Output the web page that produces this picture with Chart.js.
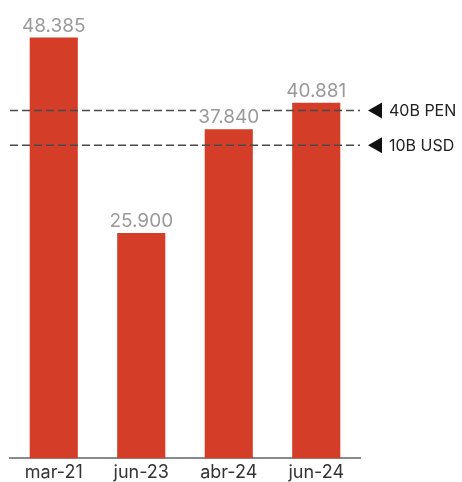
<!DOCTYPE html>
<html>
<head>
<meta charset="utf-8">
<script src="https://cdn.jsdelivr.net/npm/chart.js@4"></script>
<style>
  html, body { margin: 0; padding: 0; background: #fff; }
  canvas { display: block; }
</style>
</head>
<body>
<canvas id="grafico" width="462" height="482"></canvas>
<script>
const periodos = ["mar-21", "jun-23", "abr-24", "jun-24"];
const montos = [48.385, 25.900, 37.840, 40.881];
const etiquetas = ["48.385", "25.900", "37.840", "40.881"];
const referencias = [40.0, 36.0];
const referenciasTexto = ["40B PEN", "10B USD"];

const rojo = "#d43d27";

// lineas punteadas de referencia con su flecha y texto a la derecha
const lineasReferencia = {
  id: "lineasReferencia",
  afterDatasetsDraw(chart) {
    const ctx = chart.ctx;
    const area = chart.chartArea;
    const y = chart.scales.y;
    ctx.save();
    referencias.forEach((valor, i) => {
      const py = y.getPixelForValue(valor);
      ctx.strokeStyle = "#4a4a4a";
      ctx.lineWidth = 1.5;
      ctx.setLineDash([8, 4]);
      ctx.beginPath();
      ctx.moveTo(area.left, py);
      ctx.lineTo(area.right, py);
      ctx.stroke();
      ctx.setLineDash([]);
      ctx.fillStyle = "#111";
      ctx.beginPath();
      ctx.moveTo(area.right + 8, py);
      ctx.lineTo(area.right + 22, py - 8);
      ctx.lineTo(area.right + 22, py + 8);
      ctx.closePath();
      ctx.fill();
      ctx.fillStyle = "#222";
      ctx.font = "16px Inter, 'Noto Sans', sans-serif";
      ctx.textAlign = "left";
      ctx.textBaseline = "middle";
      ctx.fillText(referenciasTexto[i], area.right + 29, py + 1);
    });
    ctx.restore();
  }
};

// valor sobre cada barra
const valores = {
  id: "valores",
  afterDraw(chart) {
    const ctx = chart.ctx;
    const meta = chart.getDatasetMeta(0);
    ctx.save();
    ctx.font = "19px Inter, 'Noto Sans', sans-serif";
    ctx.textAlign = "center";
    ctx.textBaseline = "alphabetic";
    meta.data.forEach((barra, i) => {
      const texto = etiquetas[i];
      const w = ctx.measureText(texto).width;
      const ty = barra.y - 6;
      ctx.fillStyle = "#fff";
      ctx.fillRect(barra.x - w / 2 - 2, ty - 15, w + 4, 15);
      ctx.fillStyle = "#9a9a9a";
      ctx.fillText(texto, barra.x, ty);
    });
    ctx.restore();
  }
};

new Chart(document.querySelector("#grafico"), {
  type: "bar",
  data: {
    labels: periodos,
    datasets: [{
      data: montos,
      backgroundColor: rojo,
      barPercentage: 0.55,
      categoryPercentage: 1
    }]
  },
  options: {
    responsive: false,
    animation: false,
    layout: { padding: { left: 10, right: 102, top: 0, bottom: -4 } },
    plugins: { legend: { display: false }, tooltip: { enabled: false } },
    scales: {
      y: { display: false, min: 0, max: 52.7 },
      x: {
        grid: { display: false, drawTicks: false },
        border: { display: true, color: "#8a8a8a", width: 2 },
        ticks: {
          color: "#333",
          font: { family: "Inter, 'Noto Sans', sans-serif", size: 18 },
          padding: 3
        }
      }
    }
  },
  plugins: [lineasReferencia, valores]
});
</script>
</body>
</html>
